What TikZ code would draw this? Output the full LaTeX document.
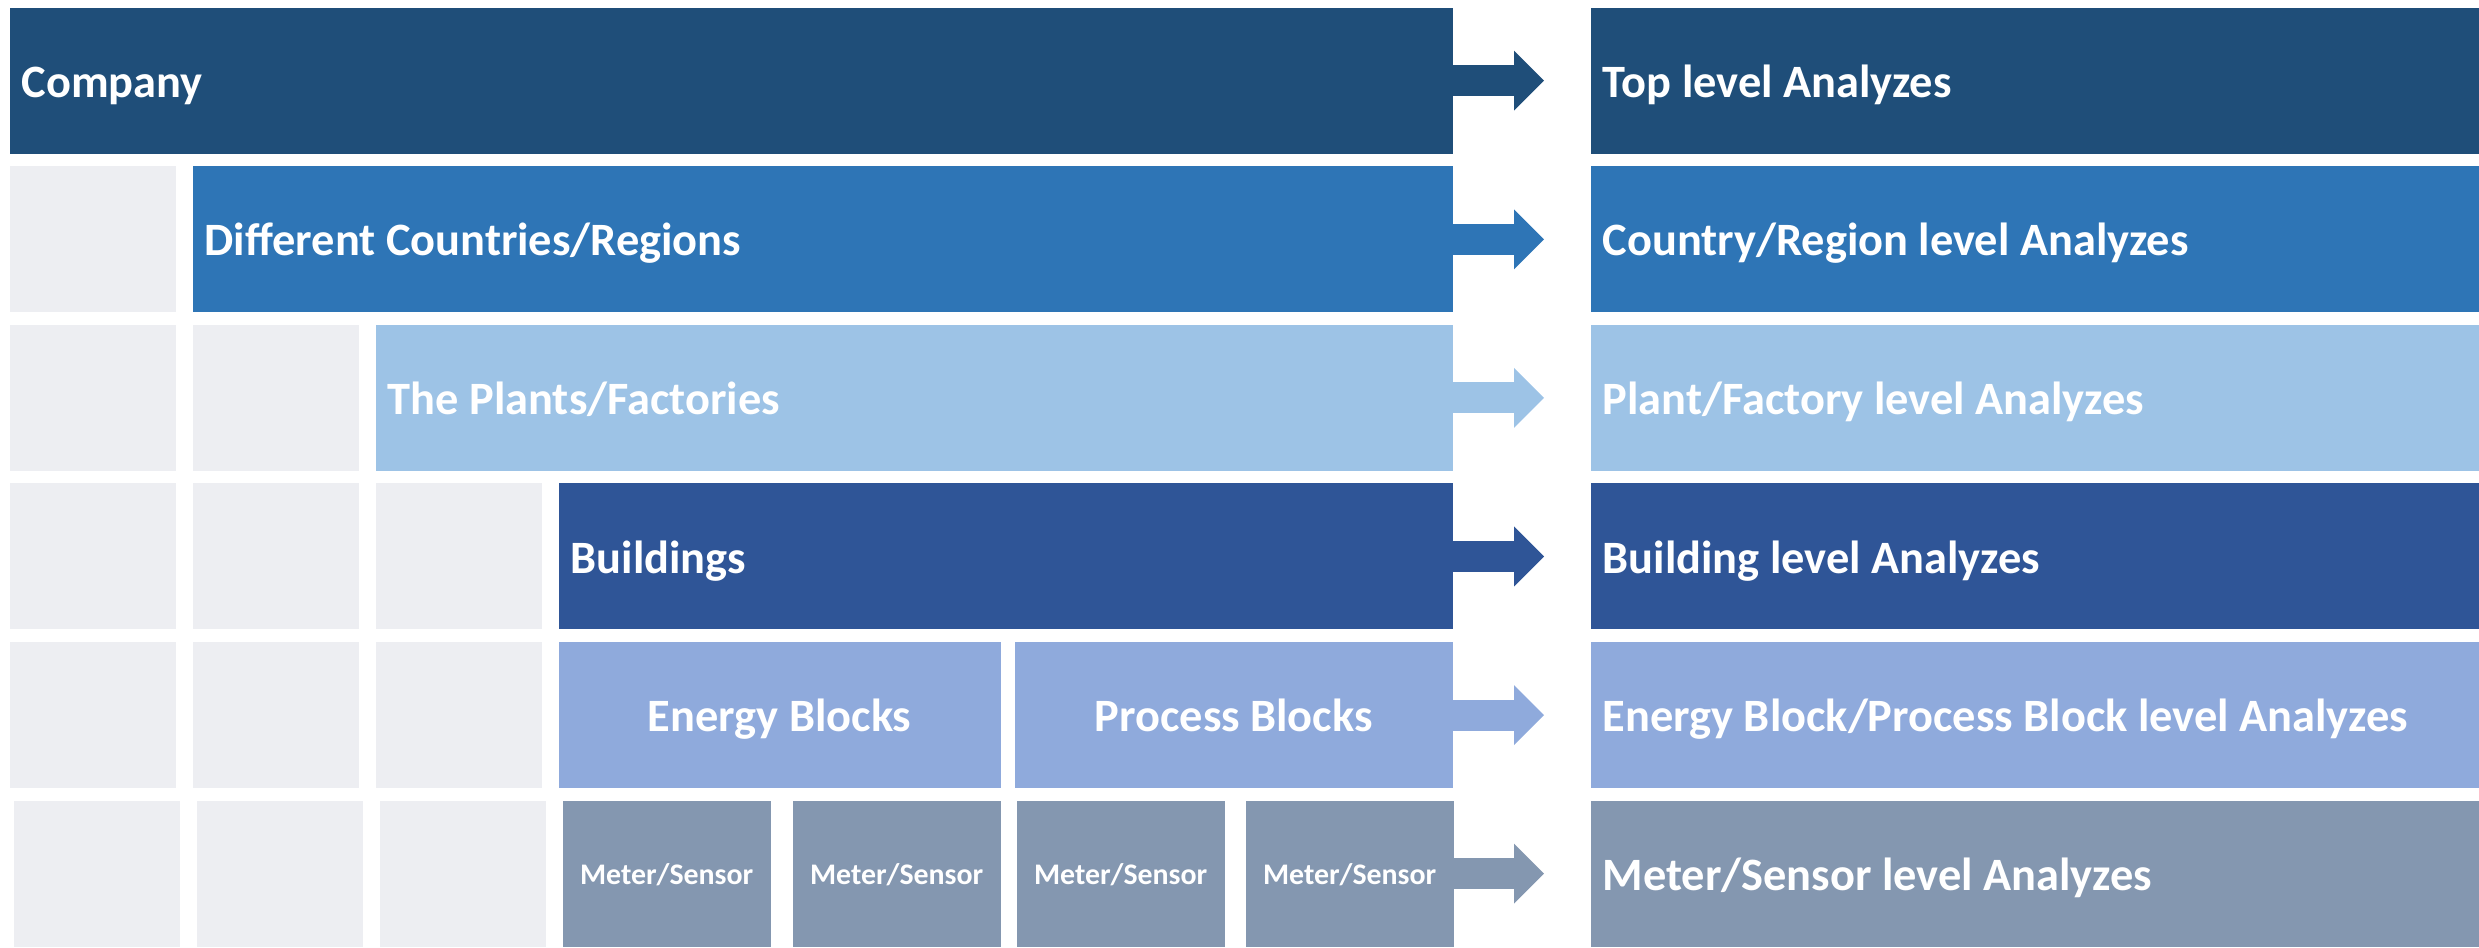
\documentclass[tikz,border=0pt]{standalone}
\usepackage{fontspec}
\setmainfont{Carlito}
\usetikzlibrary{arrows.meta}
\definecolor{cA}{HTML}{1F4E79}
\definecolor{cB}{HTML}{2E75B6}
\definecolor{cC}{HTML}{9DC3E6}
\definecolor{cD}{HTML}{2F5597}
\definecolor{cE}{HTML}{8FAADC}
\definecolor{cF}{HTML}{8497B0}
\definecolor{cellgray}{HTML}{EDEEF2}
\begin{document}
\begin{tikzpicture}[bar/.style={shape=rectangle,anchor=north west,minimum height=1.46cm,inner sep=0pt,text=white},cell/.style={bar,fill=cellgray,minimum width=1.66cm},res/.style={bar,minimum width=8.89cm},lbl/.style={anchor=west,text=white,inner xsep=0.12cm,inner ysep=0pt,text height=9.5pt,text depth=0pt,font=\bfseries\fontsize{13.2}{15}\selectfont},blk/.style={bar,fill=cE,text height=9.4pt,text depth=0pt,font=\bfseries\fontsize{13.2}{15}\selectfont},meter/.style={bar,fill=cF,minimum width=2.08cm,text height=6.3pt,text depth=0pt,font=\bfseries\fontsize{8.5}{10}\selectfont},lvlarrow/.style={line width=0.31cm,-{Triangle[width=0.6cm,length=0.3cm,line width=0pt]}}]
\def\dx{1.83};
\def\dy{-1.586};
\def\xr{15.90};

\useasboundingbox (0,0) rectangle (24.79,-9.48);

% left side: the levels
\node[bar,fill=cA,minimum width=14.43cm] (company) at (0.09,-0.07) {};
\node[lbl] at (company.west) {Company};

\node[cell] (g21) at (0.09,-0.07+\dy) {};
\node[bar,fill=cB,minimum width=12.60cm] (countries) at (0.09+\dx,-0.07+\dy) {};
\node[lbl] at (countries.west) {Different Countries/Regions};

\node[cell] (g31) at (0.09,-0.07+2*\dy) {};
\node[cell] (g32) at (0.09+\dx,-0.07+2*\dy) {};
\node[bar,fill=cC,minimum width=10.77cm] (plants) at (0.09+2*\dx,-0.07+2*\dy) {};
\node[lbl] at (plants.west) {The Plants/Factories};

\node[cell] (g41) at (0.09,-0.07+3*\dy) {};
\node[cell] (g42) at (0.09+\dx,-0.07+3*\dy) {};
\node[cell] (g43) at (0.09+2*\dx,-0.07+3*\dy) {};
\node[bar,fill=cD,minimum width=8.94cm] (buildings) at (0.09+3*\dx,-0.07+3*\dy) {};
\node[lbl] at (buildings.west) {Buildings};

\node[cell] (g51) at (0.09,-0.07+4*\dy) {};
\node[cell] (g52) at (0.09+\dx,-0.07+4*\dy) {};
\node[cell] (g53) at (0.09+2*\dx,-0.07+4*\dy) {};
\node[blk,minimum width=4.42cm] (energy) at (0.09+3*\dx,-0.07+4*\dy) {Energy Blocks};
\node[blk,minimum width=4.38cm] (process) at (10.14,-0.07+4*\dy) {Process Blocks};

\node[cell] (g61) at (0.13,-0.07+5*\dy) {};
\node[cell] (g62) at (0.13+\dx,-0.07+5*\dy) {};
\node[cell] (g63) at (0.13+2*\dx,-0.07+5*\dy) {};
\node[meter] (m1) at (5.62,-0.07+5*\dy) {Meter/Sensor};
\node[meter] (m2) at (7.92,-0.07+5*\dy) {Meter/Sensor};
\node[meter] (m3) at (10.16,-0.07+5*\dy) {Meter/Sensor};
\node[meter] (m4) at (12.45,-0.07+5*\dy) {Meter/Sensor};

% right side: the analyzes
\node[res,fill=cA] (topA) at (\xr,-0.07) {};
\node[lbl] at (topA.west) {Top level Analyzes};
\node[res,fill=cB] (countryA) at (\xr,-0.07+\dy) {};
\node[lbl] at (countryA.west) {Country/Region level Analyzes};
\node[res,fill=cC] (plantA) at (\xr,-0.07+2*\dy) {};
\node[lbl] at (plantA.west) {Plant/Factory level Analyzes};
\node[res,fill=cD] (buildingA) at (\xr,-0.07+3*\dy) {};
\node[lbl] at (buildingA.west) {Building level Analyzes};
\node[res,fill=cE] (blockA) at (\xr,-0.07+4*\dy) {};
\node[lbl] at (blockA.west) {Energy Block/Process Block level Analyzes};
\node[res,fill=cF] (meterA) at (\xr,-0.07+5*\dy) {};
\node[lbl] at (meterA.west) {Meter/Sensor level Analyzes};

% arrows
\draw[lvlarrow,cA] (company.east) -- ([xshift=-0.46cm]topA.west);
\draw[lvlarrow,cB] (countries.east) -- ([xshift=-0.46cm]countryA.west);
\draw[lvlarrow,cC] (plants.east) -- ([xshift=-0.46cm]plantA.west);
\draw[lvlarrow,cD] (buildings.east) -- ([xshift=-0.46cm]buildingA.west);
\draw[lvlarrow,cE] (process.east) -- ([xshift=-0.46cm]blockA.west);
\draw[lvlarrow,cF] (m4.east) -- ([xshift=-0.46cm]meterA.west);
\end{tikzpicture}
\end{document}
